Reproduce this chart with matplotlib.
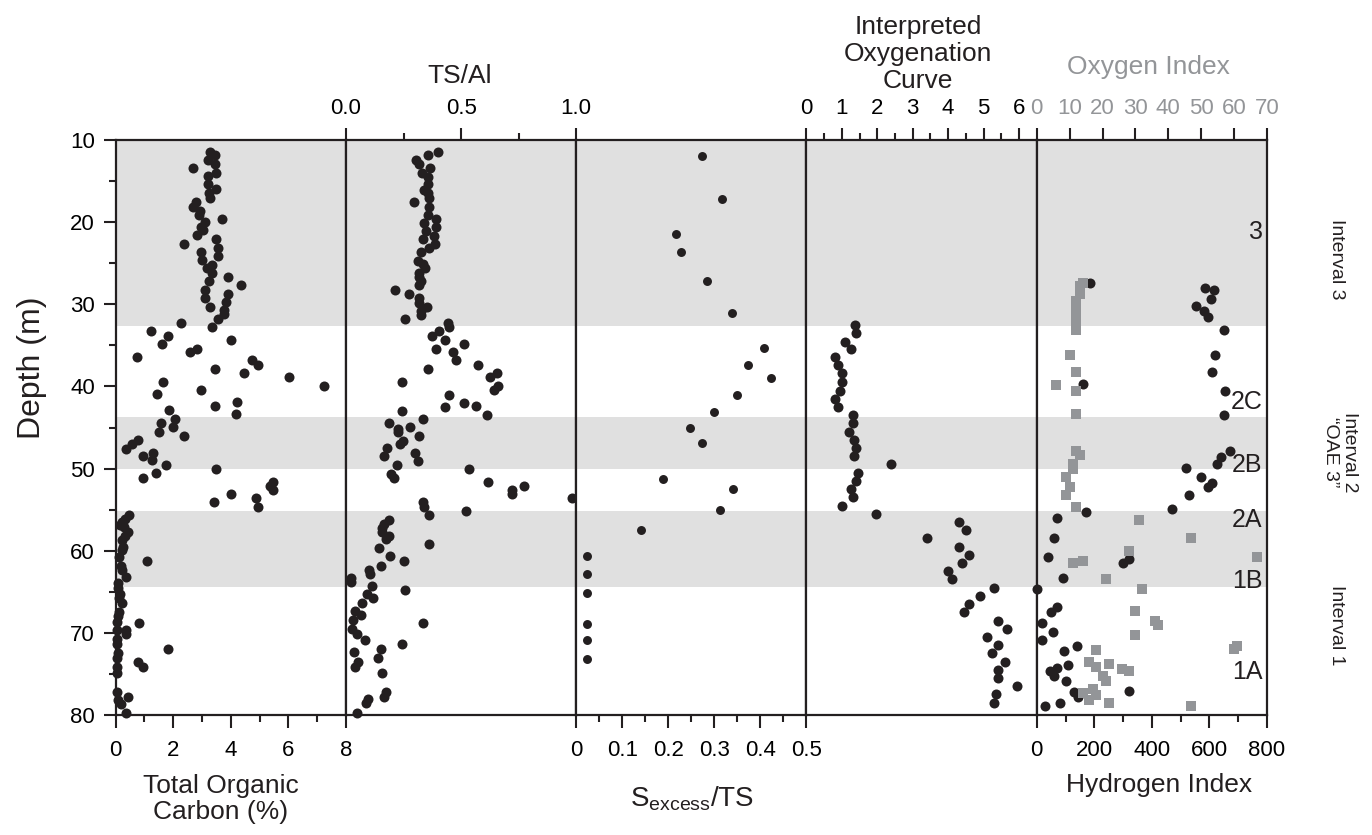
import matplotlib
matplotlib.use('Agg')
import matplotlib.pyplot as plt
from matplotlib.ticker import MultipleLocator, FixedLocator, NullLocator

plt.rcParams['font.family'] = ['Liberation Sans', 'DejaVu Sans']
plt.rcParams['mathtext.fontset'] = 'custom'
plt.rcParams['mathtext.rm'] = 'Liberation Sans'

# ---- data (depth in m) ----
toc_depth = [11.4, 11.8, 12.4, 12.9, 13.4, 14.0, 14.4, 15.3, 16.0, 16.5, 17.0, 17.6, 18.1, 18.6,
             19.1, 19.6, 20.0, 20.6, 21.0, 21.6, 22.6, 22.1, 23.1, 23.6, 24.1, 24.6, 25.2, 25.6,
             26.2, 26.7, 27.2, 27.7, 28.2, 28.7, 29.2, 29.7, 30.3, 30.7, 31.2, 31.8, 32.3, 32.8,
             33.3, 33.8, 34.3, 34.8, 35.4, 35.8, 36.4, 36.8, 37.4, 37.9, 38.4, 38.9, 40.0, 39.4,
             40.4, 40.9, 41.9, 42.4, 42.9, 43.4, 44.0, 44.5, 44.9,
             45.5, 46.0, 46.5, 47.0, 47.6, 48.1, 48.5, 49.0, 49.6, 50.5, 51.1, 50.0, 51.6, 52.1,
             52.6, 53.1, 54.1, 53.6, 54.7, 55.7, 56.1, 56.5, 56.9, 57.1, 57.7, 58.2, 58.7, 59.5,
             59.9, 60.8, 61.2, 61.8, 62.4, 63.2, 63.9, 64.6, 65.3, 66.4, 65.8, 67.4, 68.0, 68.8,
             68.7, 69.6, 70.1, 69.7, 70.7, 71.3, 72.0, 72.4, 73.0, 73.5, 74.1, 74.1, 74.9, 77.2,
             78.2, 77.8, 78.7, 79.7]
toc = [3.26, 3.44, 3.2, 3.44, 2.69, 3.47, 3.19, 3.19, 3.49, 3.25, 3.28, 2.78, 2.68, 2.93,
       2.89, 3.68, 3.1, 2.97, 3.03, 2.82, 2.39, 3.48, 3.56, 2.97, 3.54, 2.99, 3.33, 3.17,
       3.36, 3.91, 3.25, 4.34, 3.11, 3.91, 3.09, 3.84, 3.28, 3.76, 3.76, 3.56, 2.27, 3.33,
       1.22, 1.82, 3.99, 1.6, 2.82, 2.57, 0.75, 4.75, 4.96, 3.45, 4.46, 6.03, 7.25, 1.65,
       2.96, 1.44, 4.23, 3.44, 1.85, 4.17, 2.06, 1.58, 1.99,
       1.51, 2.38, 0.78, 0.58, 0.37, 1.29, 0.95, 1.26, 1.74, 1.39, 0.94, 3.5, 5.45, 5.36,
       5.45, 4.01, 3.41, 4.87, 4.96, 0.46, 0.32, 0.21, 0.15, 0.29, 0.41, 0.32, 0.23, 0.25,
       0.23, 0.12, 1.1, 0.17, 0.21, 0.37, 0.09, 0.09, 0.15, 0.23, 0.12, 0.12, 0.09, 0.81,
       0.03, 0.37, 0.35, 0.03, 0.03, 0.06, 1.83, 0.08, 0.03, 0.78, 0.96, 0.06, 0.06, 0.03,
       0.08, 0.41, 0.17, 0.35]

tsal_depth = [11.4, 11.8, 12.4, 12.9, 13.4, 14.0, 14.5, 15.4, 16.1, 16.5, 17.0, 17.5, 18.1, 19.1,
              19.6, 20.1, 20.6, 21.1, 21.7, 22.1, 22.6, 23.1, 23.6, 24.7, 25.1, 25.6, 26.2, 26.7,
              27.2, 27.7, 28.2, 28.7, 29.2, 29.8, 30.3, 30.8, 31.3, 31.8, 32.3, 32.8, 33.3, 33.8,
              34.3, 34.8, 35.4, 35.8, 36.8, 37.4, 37.9, 38.4, 38.9, 39.9, 40.4, 39.4, 41.0, 42.0,
              42.5, 42.4, 43.5, 43.0, 44.0, 44.5, 45.2, 44.9,
              45.5, 46.0, 46.6, 47.0, 47.5, 48.5, 48.1, 49.1, 49.6, 50.6, 51.1, 50.0, 51.6, 52.6,
              53.1, 52.1, 53.6, 55.2, 54.1, 54.7, 55.7, 56.2, 56.7, 57.2, 57.7, 58.2, 58.6, 59.2,
              59.7, 60.7, 61.2, 61.8, 62.3, 62.8, 63.3, 63.8, 64.3, 64.8, 65.3, 65.8, 66.4, 67.3,
              67.8, 68.4, 68.8, 69.5, 70.1, 70.9, 72.0, 71.4, 72.3, 73.0, 73.6, 74.1, 74.9, 77.2,
              77.8, 78.1, 78.6, 79.7]
tsal = [0.399, 0.357, 0.306, 0.316, 0.364, 0.33, 0.355, 0.355, 0.34, 0.355, 0.36, 0.297, 0.36, 0.355,
        0.392, 0.34, 0.389, 0.348, 0.383, 0.336, 0.387, 0.362, 0.326, 0.311, 0.333, 0.342, 0.316, 0.316,
        0.326, 0.316, 0.214, 0.272, 0.316, 0.316, 0.354, 0.325, 0.326, 0.258, 0.441, 0.447, 0.403, 0.374,
        0.432, 0.512, 0.393, 0.467, 0.476, 0.573, 0.355, 0.655, 0.624, 0.661, 0.643, 0.242, 0.448, 0.511,
        0.431, 0.566, 0.614, 0.245, 0.333, 0.188, 0.226, 0.278,
        0.226, 0.317, 0.246, 0.236, 0.179, 0.167, 0.298, 0.313, 0.223, 0.195, 0.207, 0.536, 0.616, 0.723,
        0.723, 0.774, 0.98, 0.521, 0.335, 0.338, 0.361, 0.188, 0.167, 0.156, 0.156, 0.189, 0.175, 0.361,
        0.143, 0.192, 0.25, 0.154, 0.099, 0.106, 0.02, 0.02, 0.112, 0.256, 0.093, 0.119, 0.07, 0.039,
        0.066, 0.032, 0.335, 0.025, 0.049, 0.083, 0.153, 0.243, 0.036, 0.14, 0.051, 0.039, 0.156, 0.173,
        0.167, 0.097, 0.087, 0.049]

sx_depth = [11.9, 17.2, 21.5, 23.6, 27.2, 31.0, 35.3, 37.4, 39.0, 41.1, 43.1, 45.1, 46.9,
            51.3, 52.5, 55.1, 57.5, 60.7, 62.8, 65.1, 68.9, 70.9, 73.2]
sx = [0.274, 0.317, 0.217, 0.228, 0.285, 0.339, 0.407, 0.374, 0.422, 0.35, 0.3, 0.246, 0.274,
      0.189, 0.341, 0.313, 0.141, 0.024, 0.024, 0.024, 0.024, 0.024, 0.024]

oxy_depth = [32.5, 33.5, 34.6, 35.5, 36.4, 37.4, 38.4, 39.5, 40.5, 41.5, 42.5, 43.5, 44.5, 45.5,
             46.5, 47.5, 48.5, 49.5, 50.5, 51.5, 52.5, 53.5, 54.5, 55.5, 56.5, 57.5, 58.5, 59.5,
             60.5, 61.5, 62.5, 63.5, 64.5, 65.5, 66.5, 67.5, 68.5, 69.5, 70.5, 71.5, 72.5, 73.5,
             74.5, 75.5, 76.5, 77.5, 78.5]
oxy = [1.38, 1.4, 1.08, 1.25, 0.8, 0.9, 1.0, 1.0, 0.95, 0.8, 0.9, 1.3, 1.3, 1.2,
       1.35, 1.4, 1.35, 2.4, 1.45, 1.4, 1.25, 1.3, 1.0, 1.95, 4.3, 4.5, 3.4, 4.3,
       4.6, 4.4, 4.0, 4.1, 5.3, 4.9, 4.6, 4.45, 5.4, 5.65, 5.1, 5.4, 5.25, 5.6,
       5.4, 5.4, 5.95, 5.35, 5.3]

hi_depth = [27.4, 28.0, 28.2, 29.3, 30.2, 30.8, 31.6, 33.1, 36.2, 38.3, 39.7, 40.6, 43.5, 47.9,
            48.6, 49.4, 49.9, 51.0, 51.8, 52.3, 53.2, 54.9, 55.3, 56.0, 58.5, 60.8, 61.0, 61.5,
            63.3, 64.7, 66.8, 67.5, 68.8, 69.9, 70.9, 71.6, 72.2, 73.9, 74.3, 74.6, 75.3, 75.9,
            77.1, 77.2, 77.8, 78.5, 78.9]
hi = [185, 585, 615, 605, 555, 580, 595, 650, 620, 610, 160, 655, 650, 670,
      640, 625, 520, 570, 610, 595, 530, 470, 170, 70, 60, 40, 320, 300,
      90, 0, 70, 50, 20, 55, 20, 140, 95, 110, 70, 45, 60, 100,
      320, 130, 145, 80, 30]

oi_depth = [27.4, 27.8, 28.7, 29.6, 30.3, 31.3, 32.2, 33.1, 36.2, 38.3, 39.8, 40.6, 43.4, 47.8,
            48.4, 49.4, 50.0, 51.0, 52.2, 53.2, 54.7, 56.2, 58.5, 60.0, 60.8, 61.2, 61.5, 63.4,
            64.7, 67.3, 68.6, 69.0, 70.3, 71.6, 72.0, 72.1, 73.6, 73.8, 74.1, 74.4, 74.6, 75.3,
            75.9, 76.8, 77.3, 77.6, 78.2, 78.5, 78.9]
oi = [14, 13, 13, 12, 12, 12, 12, 12, 10, 12, 6, 12, 12, 12,
      13, 11, 11, 9, 10, 9, 12, 31, 47, 28, 67, 14, 11, 21,
      32, 30, 36, 37, 30, 61, 60, 18, 16, 22, 18, 26, 28, 20,
      21, 17, 14, 18, 16, 22, 47]

bands = [(10, 32.6), (43.7, 50.1), (55.2, 64.4)]
zones = ['3', '2C', '2B', '2A', '1B', '1A']
zone_depth = [21.2, 41.9, 49.6, 56.3, 63.7, 74.8]

# ---- figure ----
W, H = 1372, 835
fig = plt.figure(figsize=(W / 100, H / 100), dpi=100)
x0, x1 = 115.7 / W, 1267 / W
y0, y1 = 1 - 715 / H, 1 - 140 / H
pw = (x1 - x0) / 5
ink = '#231f20'
grey_txt = '#939598'
fs_tick = 16

axes = []
for i in range(5):
    ax = fig.add_axes([x0 + i * pw, y0, pw, y1 - y0], sharey=axes[0] if axes else None)
    for s in ax.spines.values():
        s.set_linewidth(1.6)
        s.set_color(ink)
    for a, b in bands:
        ax.axhspan(a, b, color='#e0e0e0', lw=0, zorder=0)
    ax.tick_params(which='both', direction='out', width=1.5, color=ink, labelsize=fs_tick,
                   top=False, bottom=False, labeltop=False, labelbottom=False,
                   left=False, labelleft=False, right=False)
    ax.tick_params(which='major', length=9)
    ax.tick_params(which='minor', length=5)
    axes.append(ax)

ax1, ax2, ax3, ax4, ax5 = axes
ax1.set_ylim(80, 10)
ax1.yaxis.set_major_locator(MultipleLocator(10))
ax1.yaxis.set_minor_locator(MultipleLocator(5))
ax1.tick_params(axis='y', which='both', left=True)
ax1.tick_params(axis='y', which='major', labelleft=True, pad=6)

ms = 52
# TOC
ax1.scatter(toc, toc_depth, s=ms, color=ink, zorder=3, clip_on=False, lw=0)
ax1.set_xlim(0, 8)
ax1.xaxis.set_major_locator(MultipleLocator(2))
ax1.xaxis.set_minor_locator(MultipleLocator(1))
ax1.tick_params(axis='x', which='both', bottom=True)
ax1.tick_params(axis='x', which='major', labelbottom=True, pad=9)

# TS/Al
ax2.scatter(tsal, tsal_depth, s=ms, color=ink, zorder=3, clip_on=False, lw=0)
ax2.set_xlim(0, 1)
ax2.xaxis.set_major_locator(FixedLocator([0, 0.5, 1.0]))
ax2.xaxis.set_minor_locator(FixedLocator([0.25, 0.75]))
ax2.set_xticklabels(['0.0', '0.5', '1.0'])
ax2.tick_params(axis='x', which='both', top=True)
ax2.tick_params(axis='x', which='major', labeltop=True, pad=6)

# Sexcess / TS
ax3.scatter(sx, sx_depth, s=ms * 0.8, color=ink, zorder=3, clip_on=False, lw=0)
ax3.set_xlim(0, 0.5)
ax3.xaxis.set_major_locator(FixedLocator([0, 0.1, 0.2, 0.3, 0.4, 0.5]))
ax3.xaxis.set_minor_locator(FixedLocator([0.05, 0.15, 0.25, 0.35, 0.45]))
ax3.set_xticklabels(['0', '0.1', '0.2', '0.3', '0.4', '0.5'])
ax3.tick_params(axis='x', which='both', bottom=True)
ax3.tick_params(axis='x', which='major', labelbottom=True, pad=9)

# Oxygenation curve
ax4.scatter(oxy, oxy_depth, s=ms, color=ink, zorder=3, clip_on=False, lw=0)
ax4.set_xlim(0, 6.5)
ax4.xaxis.set_major_locator(FixedLocator(range(7)))
ax4.xaxis.set_minor_locator(FixedLocator([0.5, 1.5, 2.5, 3.5, 4.5, 5.5]))
ax4.tick_params(axis='x', which='both', top=True)
ax4.tick_params(axis='x', which='major', labeltop=True, pad=6)

# Hydrogen index (bottom) + Oxygen index (top)
ax5.scatter(hi, hi_depth, s=ms, color=ink, zorder=4, clip_on=False, lw=0)
ax5.set_xlim(0, 800)
ax5.xaxis.set_major_locator(MultipleLocator(200))
ax5.xaxis.set_minor_locator(MultipleLocator(100))
ax5.tick_params(axis='x', which='both', bottom=True)
ax5.tick_params(axis='x', which='major', labelbottom=True, pad=9)
for lab, d in zip(zones, zone_depth):
    ax5.text(785, d, lab, fontsize=18, color=ink, ha='right', va='center', zorder=5)

ax6 = ax5.twiny()
ax6.set_xlim(0, 70)
ax6.scatter(oi, oi_depth, s=60, marker='s', color='#939598', zorder=3, clip_on=False, lw=0)
ax6.xaxis.set_major_locator(MultipleLocator(10))
ax6.xaxis.set_minor_locator(NullLocator())
ax6.tick_params(axis='x', which='major', top=True, length=9, width=1.5, color=ink,
                labelsize=fs_tick, labelcolor=grey_txt, pad=6, direction='out')
for s in ax6.spines.values():
    s.set_visible(False)

# axis titles
def ftext(x, y, s, **kw):
    kw.setdefault('fontsize', 19)
    kw.setdefault('color', ink)
    fig.text(x / W, 1 - y / H, s, ha='center', va='center', **kw)

ftext(32, 368, 'Depth (m)', fontsize=23, rotation=90)
ftext(460, 76, 'TS/Al')
ftext(918, 54, 'Interpreted\nOxygenation\nCurve', linespacing=1.15)
ftext(1148, 67, 'Oxygen Index', color=grey_txt)
ftext(221, 799, 'Total Organic\nCarbon (%)', linespacing=1.15)
ftext(692, 799, r'S$_{\mathregular{excess}}$/TS', fontsize=20)
ftext(1159, 785, 'Hydrogen Index')
ftext(1336, 259, 'Interval 3', fontsize=14, rotation=-90)
ftext(1340, 452, 'Interval 2\n\u201cOAE 3\u201d', fontsize=14, rotation=-90)
ftext(1336, 625, 'Interval 1', fontsize=14, rotation=-90)

fig.savefig('out.png', dpi=100)
